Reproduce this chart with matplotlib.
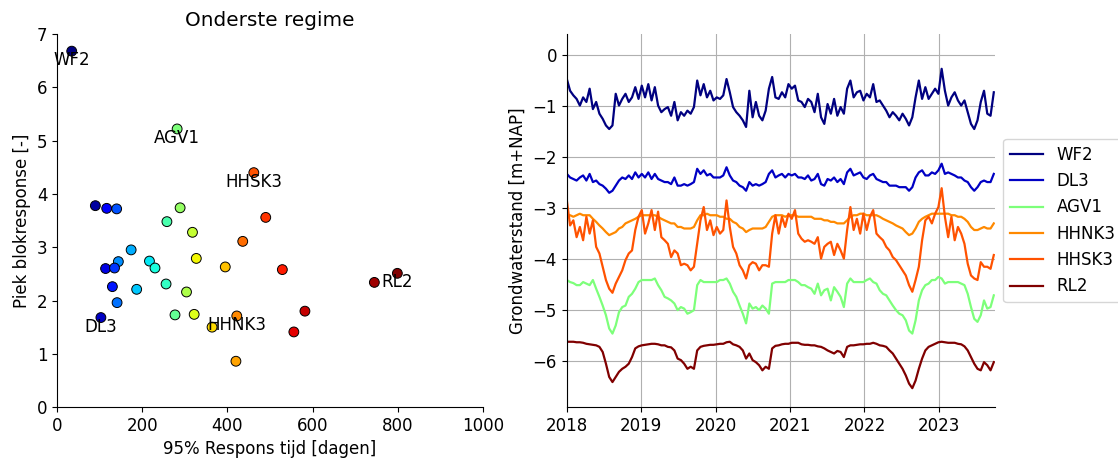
import numpy as np
import pandas as pd
import matplotlib
matplotlib.use('Agg')
import matplotlib.pyplot as plt

plt.rcParams['font.size'] = 12

# --- scatter: respons tijd vs piek blokresponse ---
resp_tijd = [34.5, 90, 116.6, 140, 289, 258, 318, 490, 436, 174, 144, 114, 135,
             217, 230, 327, 395, 529, 130, 187, 256, 304, 141, 103, 277, 322,
             364, 422, 556, 420, 462, 582, 799, 745, 282]
piek = [6.68, 3.78, 3.73, 3.72, 3.74, 3.48, 3.28, 3.56, 3.11, 2.95, 2.73, 2.60,
        2.61, 2.74, 2.61, 2.79, 2.63, 2.58, 2.26, 2.21, 2.31, 2.16, 1.96, 1.68,
        1.73, 1.74, 1.50, 1.71, 1.41, 0.86, 4.40, 1.80, 2.51, 2.34, 5.22]
namen = ['WF2', '', '', '', '', '', '', '', '', '', '', '', '', '', '', '', '',
         '', '', '', '', '', '', 'DL3', '', '', '', 'HHNK3', '', '', 'HHSK3',
         '', 'RL2', '', 'AGV1']

# --- tijdreeksen grondwaterstand ---
datums = pd.date_range('2018-01-01', periods=132, freq='16D')

wf2 = [-0.48, -0.71, -0.80, -0.87, -1.00, -0.84, -0.93, -0.67, -1.07, -0.93,
       -1.16, -1.26, -1.39, -1.46, -1.39, -0.77, -1.00, -0.87, -0.77, -0.93,
       -0.84, -0.64, -0.87, -0.61, -0.84, -0.58, -0.90, -0.64, -1.00, -1.13,
       -1.07, -1.03, -1.20, -0.93, -1.29, -1.13, -1.20, -1.10, -1.16, -1.03,
       -0.51, -0.80, -0.58, -0.84, -0.71, -0.90, -0.84, -0.87, -0.80, -0.48,
       -0.74, -1.03, -1.13, -1.20, -1.29, -1.42, -0.71, -1.23, -0.93, -1.20,
       -1.29, -1.10, -0.67, -0.44, -0.84, -0.87, -0.74, -0.84, -0.58, -0.67,
       -0.61, -0.90, -0.93, -1.03, -0.87, -0.93, -1.13, -0.77, -1.23, -1.36,
       -0.97, -1.16, -0.87, -1.20, -1.03, -1.16, -0.67, -0.51, -0.84, -0.74,
       -0.71, -0.90, -0.77, -0.84, -0.58, -0.93, -0.90, -1.00, -1.10, -1.23,
       -1.13, -1.20, -1.29, -1.16, -1.26, -1.39, -1.23, -0.84, -0.51, -0.87,
       -0.64, -0.87, -0.77, -0.67, -0.77, -0.28, -0.71, -1.00, -0.84, -0.74,
       -0.90, -1.00, -0.90, -1.13, -1.36, -1.46, -1.29, -0.93, -0.71, -1.16,
       -1.20, -0.74]

dl3 = [-2.34, -2.41, -2.44, -2.47, -2.41, -2.37, -2.47, -2.34, -2.50, -2.47,
       -2.54, -2.57, -2.63, -2.71, -2.67, -2.57, -2.47, -2.41, -2.44, -2.37,
       -2.44, -2.31, -2.41, -2.34, -2.41, -2.31, -2.44, -2.34, -2.44, -2.47,
       -2.50, -2.50, -2.54, -2.41, -2.57, -2.57, -2.54, -2.57, -2.54, -2.50,
       -2.24, -2.34, -2.27, -2.37, -2.34, -2.41, -2.41, -2.41, -2.37, -2.21,
       -2.37, -2.47, -2.50, -2.57, -2.60, -2.67, -2.50, -2.57, -2.54, -2.57,
       -2.54, -2.50, -2.34, -2.27, -2.41, -2.37, -2.34, -2.41, -2.34, -2.37,
       -2.34, -2.41, -2.41, -2.44, -2.37, -2.47, -2.44, -2.34, -2.54, -2.57,
       -2.44, -2.47, -2.41, -2.50, -2.44, -2.54, -2.31, -2.24, -2.37, -2.34,
       -2.31, -2.41, -2.44, -2.37, -2.34, -2.44, -2.47, -2.50, -2.50, -2.57,
       -2.57, -2.57, -2.60, -2.60, -2.60, -2.67, -2.60, -2.41, -2.31, -2.27,
       -2.37, -2.37, -2.31, -2.34, -2.27, -2.14, -2.34, -2.31, -2.34, -2.37,
       -2.41, -2.41, -2.47, -2.50, -2.60, -2.67, -2.60, -2.50, -2.47, -2.50,
       -2.50, -2.34]

agv1 = [-4.42, -4.46, -4.48, -4.52, -4.52, -4.46, -4.49, -4.52, -4.42, -4.59,
        -4.75, -4.92, -5.11, -5.37, -5.47, -5.31, -5.05, -4.95, -4.92, -4.75,
        -4.69, -4.59, -4.46, -4.42, -4.42, -4.42, -4.42, -4.39, -4.52, -4.62,
        -4.75, -4.78, -4.82, -4.88, -5.01, -4.95, -4.98, -5.08, -5.05, -5.01,
        -4.52, -4.42, -4.46, -4.46, -4.46, -4.46, -4.46, -4.42, -4.42, -4.39,
        -4.49, -4.65, -4.75, -4.92, -5.08, -5.27, -4.88, -4.98, -4.95, -5.01,
        -4.92, -4.98, -5.08, -4.49, -4.46, -4.46, -4.46, -4.46, -4.42, -4.42,
        -4.42, -4.46, -4.52, -4.52, -4.56, -4.59, -4.69, -4.49, -4.72, -4.62,
        -4.59, -4.82, -4.56, -4.65, -4.75, -4.95, -4.49, -4.39, -4.46, -4.46,
        -4.46, -4.46, -4.42, -4.39, -4.46, -4.49, -4.62, -4.69, -4.72, -4.82,
        -4.92, -5.01, -5.08, -5.11, -5.21, -5.41, -5.47, -5.21, -4.82, -4.62,
        -4.52, -4.49, -4.42, -4.42, -4.36, -4.39, -4.49, -4.46, -4.46, -4.46,
        -4.46, -4.49, -4.52, -4.69, -4.95, -5.18, -5.24, -5.11, -4.82, -4.98,
        -4.95, -4.72]

hhnk3 = [-3.15, -3.15, -3.18, -3.15, -3.12, -3.15, -3.15, -3.15, -3.22, -3.28,
         -3.35, -3.41, -3.48, -3.54, -3.51, -3.48, -3.41, -3.38, -3.31, -3.28,
         -3.25, -3.22, -3.18, -3.15, -3.15, -3.15, -3.15, -3.15, -3.18, -3.22,
         -3.25, -3.28, -3.31, -3.31, -3.38, -3.38, -3.41, -3.41, -3.41, -3.38,
         -3.25, -3.15, -3.15, -3.12, -3.15, -3.15, -3.15, -3.18, -3.18, -3.22,
         -3.22, -3.28, -3.31, -3.38, -3.41, -3.48, -3.44, -3.41, -3.41, -3.41,
         -3.41, -3.38, -3.28, -3.18, -3.15, -3.15, -3.15, -3.18, -3.15, -3.15,
         -3.15, -3.18, -3.18, -3.18, -3.18, -3.18, -3.22, -3.22, -3.22, -3.25,
         -3.25, -3.28, -3.28, -3.31, -3.31, -3.31, -3.25, -3.18, -3.15, -3.15,
         -3.12, -3.12, -3.15, -3.15, -3.15, -3.15, -3.18, -3.22, -3.25, -3.28,
         -3.31, -3.35, -3.38, -3.41, -3.48, -3.54, -3.51, -3.41, -3.28, -3.22,
         -3.18, -3.15, -3.12, -3.12, -3.12, -3.12, -3.12, -3.12, -3.15, -3.15,
         -3.18, -3.18, -3.22, -3.28, -3.38, -3.44, -3.44, -3.41, -3.38, -3.41,
         -3.41, -3.31]

hhsk3 = [-2.86, -3.35, -3.25, -3.58, -3.38, -3.64, -3.18, -3.51, -3.25, -3.77,
         -3.90, -4.16, -4.42, -4.59, -4.67, -4.49, -4.36, -4.23, -4.03, -3.90,
         -3.84, -3.44, -3.18, -3.05, -3.51, -3.31, -3.05, -3.44, -3.08, -3.58,
         -3.64, -3.71, -3.97, -3.84, -3.90, -4.13, -4.10, -4.13, -4.23, -4.16,
         -3.71, -3.25, -2.99, -3.44, -3.25, -3.54, -3.38, -3.51, -3.44, -2.86,
         -3.38, -3.77, -3.90, -4.13, -4.23, -4.39, -4.13, -4.07, -4.10, -4.23,
         -4.13, -4.13, -4.16, -3.51, -3.15, -3.51, -3.18, -3.38, -3.12, -3.22,
         -3.05, -3.51, -3.61, -3.67, -3.64, -3.67, -3.71, -3.58, -4.00, -3.77,
         -3.71, -3.67, -3.93, -3.71, -3.84, -4.00, -3.44, -2.99, -3.44, -3.22,
         -3.51, -3.12, -3.44, -3.18, -3.05, -3.51, -3.58, -3.64, -3.77, -3.84,
         -3.97, -4.03, -4.13, -4.23, -4.33, -4.52, -4.65, -4.42, -4.16, -3.64,
         -3.25, -3.18, -3.31, -3.12, -2.99, -2.62, -3.18, -3.58, -3.18, -3.64,
         -3.38, -3.51, -3.71, -4.10, -4.33, -4.39, -4.42, -4.07, -4.16, -4.16,
         -4.20, -3.93]

rl2 = [-5.63, -5.63, -5.63, -5.64, -5.64, -5.65, -5.67, -5.68, -5.69, -5.70,
       -5.73, -5.83, -6.06, -6.32, -6.42, -6.32, -6.22, -6.16, -6.12, -6.06,
       -5.93, -5.76, -5.72, -5.70, -5.69, -5.68, -5.67, -5.67, -5.68, -5.70,
       -5.70, -5.73, -5.74, -5.80, -5.96, -5.99, -6.06, -6.16, -6.12, -6.16,
       -5.80, -5.73, -5.71, -5.70, -5.69, -5.69, -5.68, -5.67, -5.67, -5.64,
       -5.63, -5.68, -5.70, -5.73, -5.80, -5.96, -5.86, -5.99, -6.03, -6.09,
       -6.19, -6.12, -6.16, -5.76, -5.71, -5.70, -5.68, -5.67, -5.67, -5.65,
       -5.65, -5.65, -5.68, -5.69, -5.69, -5.70, -5.70, -5.72, -5.73, -5.76,
       -5.80, -5.83, -5.86, -5.81, -5.83, -5.93, -5.73, -5.70, -5.70, -5.69,
       -5.68, -5.68, -5.67, -5.67, -5.65, -5.67, -5.70, -5.71, -5.73, -5.80,
       -5.86, -5.96, -6.06, -6.16, -6.29, -6.45, -6.54, -6.39, -6.16, -5.96,
       -5.80, -5.73, -5.70, -5.67, -5.64, -5.63, -5.64, -5.65, -5.65, -5.65,
       -5.67, -5.68, -5.72, -5.80, -5.93, -6.06, -6.16, -6.19, -6.03, -6.09,
       -6.19, -6.03]

reeksen = {'WF2': wf2, 'DL3': dl3, 'AGV1': agv1, 'HHNK3': hhnk3, 'HHSK3': hhsk3, 'RL2': rl2}

# kleur op volgorde van responstijd (jet)
x = np.array(resp_tijd)
y = np.array(piek)
rang = np.argsort(np.argsort(x))
kleurwaarde = rang / (len(x) - 1)
cmap = plt.get_cmap('jet')

fig = plt.figure(figsize=(11.18, 4.61), dpi=100)
ax1 = fig.add_axes([0.051, 0.117, 0.381, 0.809])
ax2 = fig.add_axes([0.507, 0.117, 0.383, 0.809])

ax1.scatter(x, y, c=cmap(kleurwaarde), s=50, edgecolors='k', linewidths=0.7, zorder=3)
for xi, yi, naam in zip(x, y, namen):
    if naam:
        ax1.text(xi, yi, naam, ha='center', va='top', fontsize=12, zorder=4)
ax1.set_xlim(0, 1000)
ax1.set_ylim(0, 7)
ax1.set_xlabel('95% Respons tijd [dagen]')
ax1.set_ylabel('Piek blokresponse [-]')
ax1.set_title('Onderste regime')
ax1.spines['top'].set_visible(False)
ax1.spines['right'].set_visible(False)

for naam, waarden in reeksen.items():
    idx = namen.index(naam)
    ax2.plot(datums, waarden, color=cmap(kleurwaarde[idx]), lw=1.6, label=naam)
ax2.set_xlim(pd.Timestamp('2018-01-01'), pd.Timestamp('2023-10-04'))
ax2.set_ylim(-6.91, 0.40)
ax2.set_ylabel('Grondwaterstand [m+NAP]')
ax2.grid(True)
ax2.spines['top'].set_visible(False)
ax2.spines['right'].set_visible(False)
ax2.legend(loc='center left', bbox_to_anchor=(1.0, 0.5))

fig.savefig('out.png', dpi=100)
